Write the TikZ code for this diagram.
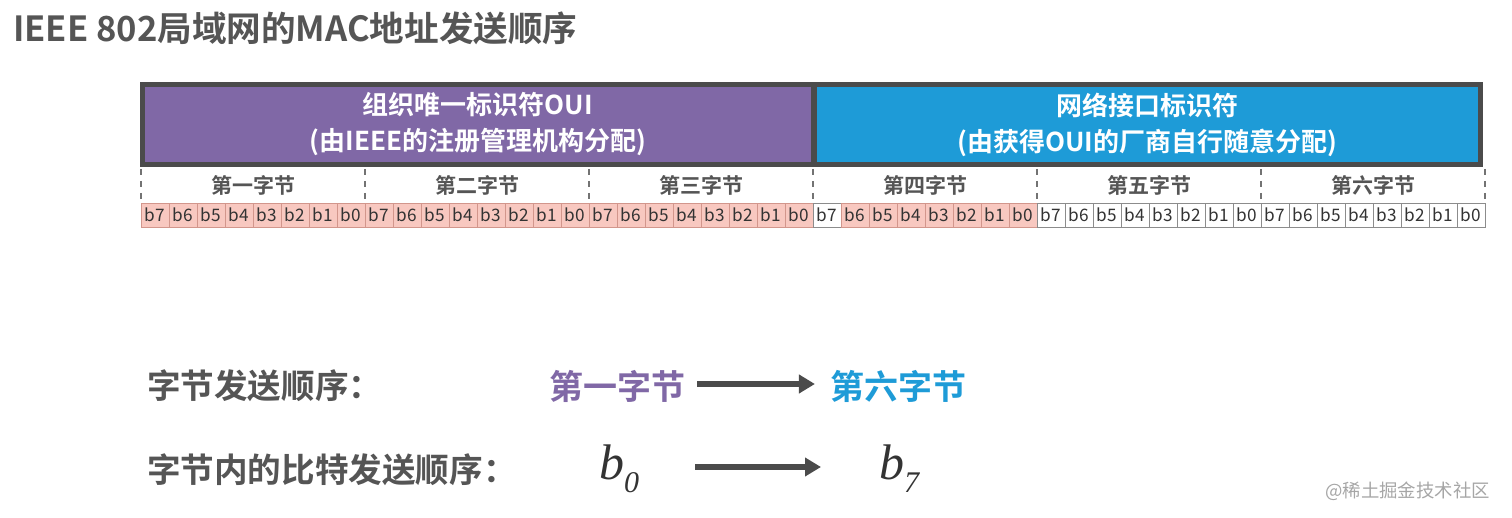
\documentclass[tikz,border=0pt]{standalone}
\usepackage{fontspec}
\setmainfont{Noto Sans CJK SC}[BoldFont={Noto Sans CJK SC Bold}]
\newfontfamily\serifit{Liberation Serif}
\usepackage{tikz}
\usetikzlibrary{arrows.meta, calc, positioning}
\definecolor{ouipurple}{RGB}{128,104,166}
\definecolor{nicblue}{RGB}{30,155,215}
\definecolor{framegray}{RGB}{75,75,75}
\definecolor{textgray}{RGB}{85,85,85}
\definecolor{bitpink}{RGB}{248,200,192}
\definecolor{bitline}{RGB}{210,150,140}
\newcommand{\bitsym}[1]{{\serifit\itshape b\raisebox{-0.26em}{\fontsize{15}{16}\selectfont #1}}}
\tikzset{
  fieldbox/.style={minimum height=37.5pt, inner sep=0pt, text=white, font=\fontsize{13}{18}\selectfont\bfseries, align=center},
  bytelabel/.style={font=\fontsize{10.5}{12}\selectfont\bfseries, text=textgray},
  bitcell/.style={draw=bitline, fill=bitpink, minimum width=14pt, minimum height=12pt, inner sep=0pt, font=\fontsize{8.6}{9}\selectfont, text=black!80},
  bitfree/.style={bitcell, draw=black!45, fill=white},
  orderlabel/.style={font=\fontsize{16.8}{19}\selectfont\bfseries, text=textgray, anchor=west},
  bitsymbol/.style={font=\fontsize{25}{27}\selectfont, text=black!80},
  sendarrow/.style={draw=framegray, line width=2.6pt, -{Triangle[length=8pt, width=9pt]}}
}
\begin{document}
\begin{tikzpicture}[x=0.5pt, y=-0.5pt]
\useasboundingbox (0,0) rectangle (1512,518);
% title
\node[anchor=west, font=\fontsize{17.3}{19}\selectfont\bfseries, text=textgray] (title) at (6,28) {IEEE 802局域网的MAC地址发送顺序};
% address fields
\fill[framegray] (140,82) rectangle (1483,167);
\node[fieldbox, fill=ouipurple, minimum width=333pt] (oui) at (478,124.5) {组织唯一标识符OUI\\(由IEEE的注册管理机构分配)};
\node[fieldbox, fill=nicblue, minimum width=330.5pt] (nic) at (1147.5,124.5) {网络接口标识符\\(由获得OUI的厂商自行随意分配)};
% bytes and bits
\foreach \name [count=\j from 0] in {第一字节,第二字节,第三字节,第四字节,第五字节,第六字节} {
  \node[bytelabel] (byte\j) at ({253+224*\j},185) {\name};
  \foreach \bitno [count=\i from 0] in {7,6,5,4,3,2,1,0} {
    \pgfmathtruncatemacro{\free}{(\j>3)||(\j==3&&\i==0)}
    \ifnum\free=1
      \node[bitfree] (bit\j-\i) at ({155+224*\j+28*\i},215) {b\bitno};
    \else
      \node[bitcell] (bit\j-\i) at ({155+224*\j+28*\i},215) {b\bitno};
    \fi
  }
}
\foreach \j in {0,...,6}
  \draw[black!55, dashed, line width=0.6pt] ({141+224*\j},169) -- ({141+224*\j},203);
% sending order
\node[orderlabel] (bytetxt) at (140,386) {字节发送顺序：};
\node[font=\fontsize{17}{19}\selectfont\bfseries, text=ouipurple] (first) at (617,386) {第一字节};
\node[font=\fontsize{17}{19}\selectfont\bfseries, text=nicblue] (sixth) at (898,386) {第六字节};
\draw[sendarrow] (first.east) ++(5,-2) coordinate (a1) -- ($(sixth.west)+(-8,-2)$) coordinate (a2);
\node[orderlabel] (bittxt) at (140,470) {字节内的比特发送顺序：};
\node[bitsymbol] (bzero) at (619,469) {\bitsym{0}};
\node[bitsymbol] (bseven) at (899,469) {\bitsym{7}};
\draw[sendarrow] (695,467) coordinate (c1) -- (821,467) coordinate (c2);
% watermark
\node[anchor=east, font=\fontsize{9.2}{10}\selectfont, text=black!35] (mark) at (1497,491) {@稀土掘金技术社区};
\end{tikzpicture}
\end{document}
